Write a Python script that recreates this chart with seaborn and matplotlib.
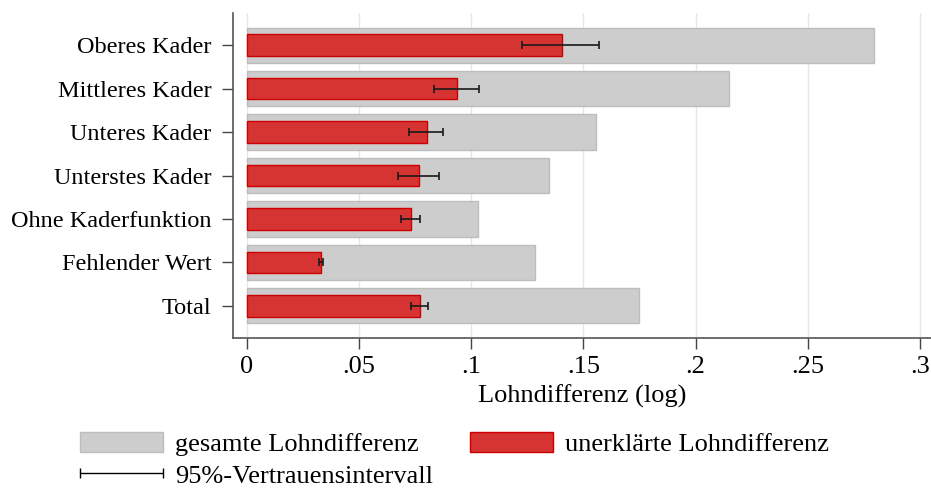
import matplotlib
matplotlib.use("Agg")
import matplotlib.pyplot as plt
import seaborn as sns
import pandas as pd
import numpy as np
from matplotlib.patches import Patch
from matplotlib.lines import Line2D
from matplotlib.legend_handler import HandlerLine2D

categories = ["Oberes Kader", "Mittleres Kader", "Unteres Kader", "Unterstes Kader",
              "Ohne Kaderfunktion", "Fehlender Wert", "Total"]
total_gap = [0.2798, 0.2149, 0.1555, 0.1348, 0.1029, 0.1285, 0.1746]
unexplained_gap = [0.1404, 0.0935, 0.0801, 0.0765, 0.0730, 0.0329, 0.0770]
ci_low = [0.1227, 0.0834, 0.0721, 0.0675, 0.0688, 0.0320, 0.0731]
ci_high = [0.1571, 0.1034, 0.0874, 0.0857, 0.0771, 0.0337, 0.0807]
xticks = [0, 0.05, 0.1, 0.15, 0.2, 0.25, 0.3]
xtick_labels = ["0", ".05", ".1", ".15", ".2", ".25", ".3"]

df = pd.DataFrame({"cat": categories, "total": total_gap, "unexpl": unexplained_gap,
                   "lo": ci_low, "hi": ci_high})

sns.set_theme(style="white")
plt.rcParams["font.family"] = ["Liberation Serif", "DejaVu Serif"]
plt.rcParams["text.color"] = "black"
plt.rcParams["axes.labelcolor"] = "black"
plt.rcParams["xtick.labelcolor"] = "black"
plt.rcParams["ytick.labelcolor"] = "black"
FS = 19

fig = plt.figure(figsize=(9.31, 4.88), dpi=100)
ax = fig.add_axes([233/931, 1-338/488, 1-233/931, (338-13)/488])

gray = "#CDCDCD"
red = "#D63333"
sns.barplot(data=df, y="cat", x="total", order=categories, color=gray, width=0.81,
            edgecolor="#BDBDBD", linewidth=1, saturation=1, ax=ax, zorder=2)
sns.barplot(data=df, y="cat", x="unexpl", order=categories, color=red, width=0.5,
            edgecolor="#CC0000", linewidth=1, saturation=1, ax=ax, zorder=3)

ypos = np.arange(len(categories))
mid = (df["lo"] + df["hi"]) / 2
half = (df["hi"] - df["lo"]) / 2
ax.errorbar(mid, ypos, xerr=half, fmt="none", ecolor="#1a1a1a", elinewidth=1.2,
            capsize=3.2, capthick=1.2, zorder=4)

ax.set_xlim(-0.00624, 0.305)
ax.set_ylim(6.74, -0.74)
ax.set_xticks(xticks)
ax.set_xticklabels(xtick_labels, fontsize=FS)
ax.tick_params(axis="y", labelsize=17.5, length=8, width=1, color="#444444", pad=7.5, left=True)
ax.tick_params(axis="x", length=8, width=1, color="#444444", pad=5, bottom=True)
ax.set_ylabel("")
ax.set_xlabel("Lohndifferenz (log)", fontsize=FS, labelpad=4.5)
ax.grid(axis="x", color="#E6E6E6", linewidth=1, zorder=0)
ax.grid(axis="y", visible=False)
ax.set_axisbelow(True)
for s in ["top", "right"]:
    ax.spines[s].set_visible(False)
for s in ["left", "bottom"]:
    ax.spines[s].set_color("#555555")
    ax.spines[s].set_linewidth(1.2)

ci_handle = Line2D([0, 1], [0, 0], color="black", lw=1, marker="|", markersize=7,
                   markeredgewidth=1)
handles = [Patch(facecolor=gray, edgecolor="#BDBDBD"), ci_handle,
           Patch(facecolor=red, edgecolor="#CC0000")]
labels = ["gesamte Lohndifferenz", "95%-Vertrauensintervall", "unerklärte Lohndifferenz"]
fig.legend(handles, labels, ncol=2, numpoints=2, loc="upper left",
           bbox_to_anchor=(80/931, 1-432/488), frameon=False, fontsize=FS,
           handlelength=3.15, handleheight=0.76, handletextpad=0.45, columnspacing=1.4,
           labelspacing=0.3, borderpad=0, borderaxespad=0,
           handler_map={ci_handle: HandlerLine2D(marker_pad=0)})

fig.savefig("out.png", dpi=100)
